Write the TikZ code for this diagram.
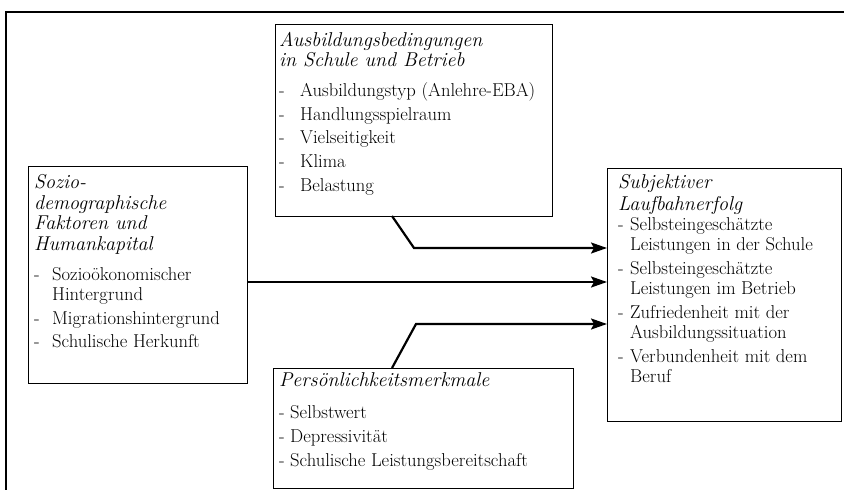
\documentclass[tikz,border=0pt]{standalone}
\usepackage{fontspec}
\usetikzlibrary{arrows.meta}
\newcommand{\ttl}[1]{\multicolumn{2}{@{}l@{}}{\fontsize{20}{20}\itshape #1}}
\begin{document}
\begin{tikzpicture}[x=1pt,y=-1pt,
  box/.style={draw, line width=0.9pt, inner sep=0pt, outer sep=0pt},
  txt/.style={inner sep=0pt, anchor=base west, font=\fontsize{18.6}{20}\selectfont},
  arr/.style={line width=2.2pt, -{Stealth[length=16pt,width=11pt,inset=3pt]}}]
\useasboundingbox (0,0) rectangle (844,490);
\draw[line width=1.2pt] (6,492) -- (6,12) -- (846,12);

\node[box, minimum width=277pt, minimum height=192pt] (A) at (413.5,120) {};
\node[box, minimum width=219pt, minimum height=217pt] (L) at (137.5,274.5) {};
\node[box, minimum width=234pt, minimum height=253pt] (S) at (724,294.5) {};
\node[box, minimum width=300pt, minimum height=120pt] (P) at (423,428) {};

\node[txt] (At) at (279,46.5) {\begin{tabular}[t]{@{}p{21pt}@{}l@{}}
\ttl{Ausbildungsbedingungen}\\
\ttl{in Schule und Betrieb}\\[10pt]
- & Ausbildungstyp (Anlehre-EBA)\\[3.7pt]
- & Handlungsspielraum\\[3.7pt]
- & Vielseitigkeit\\[3.7pt]
- & Klima\\[3.7pt]
- & Belastung
\end{tabular}};

\node[txt] (Lt) at (34,188.5) {\begin{tabular}[t]{@{}p{18pt}@{}l@{}}
\ttl{Sozio-}\\[0.7pt]
\ttl{demographische}\\[0.7pt]
\ttl{Faktoren und}\\[0.7pt]
\ttl{Humankapital}\\[10pt]
- & Sozioökonomischer\\
  & Hintergrund\\[4pt]
- & Migrationshintergrund\\[3pt]
- & Schulische Herkunft
\end{tabular}};

\node[txt] (St) at (618,188.5) {\begin{tabular}[t]{@{}p{12pt}@{}l@{}}
\ttl{Subjektiver}\\[2pt]
\ttl{Laufbahnerfolg}\\
- & Selbsteingeschätzte\\
  & Leistungen in der Schule\\[4pt]
- & Selbsteingeschätzte\\
  & Leistungen im Betrieb\\[3.5pt]
- & Zufriedenheit mit der\\
  & Ausbildungssituation\\[4pt]
- & Verbundenheit mit dem\\
  & Beruf
\end{tabular}};

\node[txt] (Pt) at (279,386.5) {\begin{tabular}[t]{@{}p{11pt}@{}l@{}}
\ttl{Persönlichkeitsmerkmale}\\[12pt]
- & Selbstwert\\[4pt]
- & Depressivität\\[3.5pt]
- & Schulische Leistungsbereitschaft
\end{tabular}};

\coordinate (k1) at (414,248);
\coordinate (k2) at (0,282);
\coordinate (k3) at (416,324);
\draw[arr] ([xshift=117pt]A.south west) -- (k1) -- (S.west |- k1);
\draw[arr] (L.east |- k2) -- (S.west |- k2);
\draw[arr] ([xshift=119pt]P.north west) -- (k3) -- (S.west |- k3);
\end{tikzpicture}
\end{document}
